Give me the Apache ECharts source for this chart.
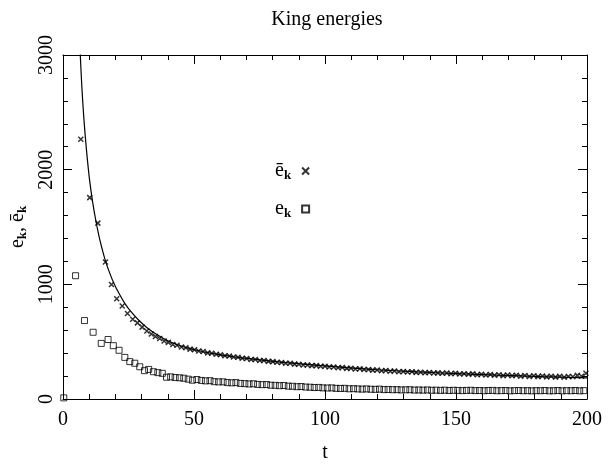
<!DOCTYPE html>
<html>
<head>
<meta charset="utf-8">
<script src="https://cdn.jsdelivr.net/npm/echarts@6/dist/echarts.min.js"></script>
<style>
  html, body { margin: 0; padding: 0; background: #fff; }
  #chart { width: 612px; height: 468px; }
</style>
</head>
<body>
<div id="chart"></div>
<script>
// Kinetic energy e_k (squares), mean energy ē_k (crosses) and the model curve, versus time t.

const xTicks = [0, 50, 100, 150, 200];
const yTicks = [0, 1000, 2000, 3000];

// e_k samples
const tEk = [0.3, 4.8, 8.2, 11.5, 14.6, 17.2, 19.2, 21.4, 23.6, 25.5, 27.4, 29.3, 31.1, 32.7, 34.5, 36.2, 37.9, 39.5, 41.1, 42.8, 44.5, 46.1, 47.8, 49.4, 51.1,
  52.8, 54.4, 56.1, 57.7, 59.4, 61.1, 62.7, 64.4, 66.0, 67.7, 69.4, 71.0, 72.7, 74.3, 76.0, 77.7, 79.3, 81.0, 82.6, 84.3, 86.0, 87.6, 89.3, 90.9,
  92.6, 94.3, 95.9, 97.6, 99.2, 100.9, 102.6, 104.2, 105.9, 107.5, 109.2, 110.9, 112.5, 114.2, 115.8, 117.5, 119.2, 120.8, 122.5, 124.1, 125.8,
  127.5, 129.1, 130.8, 132.4, 134.1, 135.8, 137.4, 139.1, 140.7, 142.4, 144.1, 145.7, 147.4, 149.0, 150.7, 152.4, 154.0, 155.7, 157.3, 159.0,
  160.7, 162.3, 164.0, 165.6, 167.3, 169.0, 170.6, 172.3, 173.9, 175.6, 177.3, 178.9, 180.6, 182.2, 183.9, 185.6, 187.2, 188.9, 190.5, 192.2,
  193.9, 195.5, 197.2, 198.8];
const ek = [10, 1075, 684, 582, 485, 519, 465, 425, 363, 326, 312, 281, 247, 258, 238, 230, 224, 190, 193, 187, 185, 181, 173, 164, 170,
  162, 158, 160, 151, 149, 150, 143, 141, 143, 136, 134, 131, 133, 127, 125, 126, 120, 119, 116, 118, 112, 111, 107, 109,
  104, 103, 100, 101, 97, 96, 97, 93, 92, 93, 89, 90, 88, 86, 88, 85, 84, 86, 82, 83, 81,
  82, 79, 80, 81, 78, 79, 77, 79, 76, 77, 75, 77, 74, 76, 75, 73, 75, 76, 73, 74,
  72, 74, 75, 72, 73, 74, 71, 73, 74, 72, 73, 71, 73, 72, 74, 71, 72, 74, 71, 73,
  72, 74, 71, 73];

// ē_k samples
const tEkBar = [6.8, 10.2, 13.3, 16.2, 18.5, 20.5, 22.6, 24.6, 26.6, 28.4, 30.2, 32.0, 33.7, 35.3,
  36.9, 38.6, 40.2, 41.9, 43.5, 45.2, 46.9, 48.5, 50.2, 51.8, 53.5, 55.2, 56.8, 58.5, 60.1, 61.8, 63.5, 65.1, 66.8, 68.4,
  70.1, 71.8, 73.4, 75.1, 76.7, 78.4, 80.1, 81.7, 83.4, 85.0, 86.7, 88.4, 90.0, 91.7, 93.3, 95.0, 96.7, 98.3, 100.0,
  101.6, 103.3, 105.0, 106.6, 108.3, 109.9, 111.6, 113.3, 114.9, 116.6, 118.2, 119.9, 121.6, 123.2, 124.9, 126.5, 128.2,
  129.9, 131.5, 133.2, 134.8, 136.5, 138.2, 139.8, 141.5, 143.1, 144.8, 146.5, 148.1, 149.8, 151.4, 153.1, 154.8, 156.4,
  158.1, 159.7, 161.4, 163.1, 164.7, 166.4, 168.0, 169.7, 171.4, 173.0, 174.7, 176.3, 178.0, 179.7, 181.3, 183.0, 184.6,
  186.3, 188.0, 189.6, 191.3, 192.9, 194.6, 196.3, 197.9, 199.6];
const ekBar = [2266, 1756, 1534, 1194, 998, 874, 811, 746, 695, 664, 627, 593, 567, 545,
  527, 506, 494, 476, 468, 453, 447, 435, 430, 418, 414, 402, 399, 390, 386, 377, 375, 366, 364, 355,
  353, 345, 344, 336, 335, 328, 326, 320, 319, 312, 311, 304, 303, 297, 297, 291, 291, 285, 285,
  279, 279, 273, 274, 267, 268, 262, 263, 257, 258, 252, 253, 246, 248, 242, 244, 238,
  240, 235, 237, 232, 234, 229, 231, 226, 228, 224, 226, 221, 224, 218, 221, 216, 219,
  212, 216, 209, 214, 207, 211, 204, 209, 202, 207, 199, 205, 197, 203, 195, 201, 193,
  199, 191, 198, 189, 197, 194, 206, 198, 224, 238];

// model curve
const tCurve = [6.3, 6.7, 7.2, 7.8, 8.5, 9.3, 10.2, 11.2, 12.3, 13.5, 14.8, 16.2, 17.8, 19.5, 21.5, 23.7, 26.2, 29.0, 32.2, 35.8,
  40.0, 45.0, 51.0, 58.0, 66.0, 75.0, 85.0, 96.0, 108.0, 121.0, 135.0, 150.0, 166.0, 183.0, 200.0];
const eCurve = [3150, 2950, 2720, 2500, 2290, 2090, 1900, 1735, 1585, 1445, 1320, 1205, 1100, 1005, 915, 830, 755, 685, 620, 562,
  508, 462, 425, 393, 366, 341, 317, 295, 273, 253, 236, 222, 208, 195, 185];

const FONT = '"Liberation Serif", "DejaVu Serif", serif';
const INK = '#000';

const pairs = (xs, ys) => xs.map((x, i) => [x, ys[i]]);

const subRich = {
  e: { fontFamily: FONT, fontSize: 20, color: INK },
  k: { fontFamily: FONT, fontSize: 13, fontWeight: 'bold', color: INK, padding: [9, 0, 0, 0] }
};
const legendRich = {
  e: subRich.e,
  k: { fontFamily: FONT, fontSize: 13, fontWeight: 'bold', color: INK, padding: [9, 6, 0, 0] }
};

function frameAxis(kind, position, showLabels) {
  const isX = kind === 'x';
  return {
    type: 'value',
    position: position,
    min: isX ? xTicks[0] : yTicks[0],
    max: isX ? xTicks[xTicks.length - 1] : yTicks[yTicks.length - 1],
    interval: isX ? xTicks[1] - xTicks[0] : yTicks[1] - yTicks[0],
    axisLine: { show: true, onZero: false, lineStyle: { color: INK, width: 1 } },
    axisTick: { show: true, inside: true, length: 9, lineStyle: { color: INK, width: 1 } },
    minorTick: { show: true, splitNumber: 5, length: 5, lineStyle: { color: INK, width: 1 } },
    splitLine: { show: false },
    minorSplitLine: { show: false },
    axisLabel: {
      show: showLabels,
      fontFamily: FONT,
      fontSize: 20,
      color: INK,
      margin: isX ? 11 : 6,
      rotate: isX ? 0 : 90,
      formatter: v => String(v)
    }
  };
}

const xBottom = Object.assign(frameAxis('x', 'bottom', true), {
  name: 't',
  nameLocation: 'middle',
  nameGap: 44,
  nameTextStyle: { fontFamily: FONT, fontSize: 20, color: INK }
});
const yLeft = Object.assign(frameAxis('y', 'left', true), {
  name: '{e|e}{k|k}{e|, ē}{k|k}',
  nameLocation: 'middle',
  nameRotate: 90,
  nameGap: 30,
  nameTextStyle: { rich: subRich }
});

const chart = echarts.init(document.getElementById('chart'), null, { renderer: 'canvas' });
chart.setOption({
  backgroundColor: '#fff',
  animation: false,
  title: {
    text: 'King energies',
    left: 322,
    textAlign: 'center',
    top: 5,
    textStyle: { fontFamily: FONT, fontSize: 20, fontWeight: 'normal', color: INK }
  },
  grid: { left: 63, right: 25, top: 55, bottom: 60 },
  xAxis: [xBottom, frameAxis('x', 'top', false)],
  yAxis: [yLeft, frameAxis('y', 'right', false)],
  legend: {
    orient: 'vertical',
    left: 270,
    top: 156,
    align: 'right',
    itemGap: 17,
    itemWidth: 7,
    itemHeight: 7,
    selectedMode: false,
    data: ['ebar', 'e'],
    formatter: name => name === 'ebar' ? '{e|ē}{k|k}' : '{e|e}{k|k}',
    textStyle: { rich: legendRich }
  },
  series: [
    {
      name: 'curve',
      type: 'line',
      data: pairs(tCurve, eCurve),
      showSymbol: false,
      clip: true,
      smooth: 0.3,
      lineStyle: { color: INK, width: 1.2 },
      z: 1
    },
    {
      name: 'ebar',
      type: 'scatter',
      data: pairs(tEkBar, ekBar),
      symbol: 'path://M0,0L10,10M0,10L10,0',
      symbolSize: 5,
      itemStyle: { color: 'rgba(0,0,0,0)', borderColor: INK, borderWidth: 1.5 },
      z: 3
    },
    {
      name: 'e',
      type: 'scatter',
      data: pairs(tEk, ek),
      symbol: 'rect',
      symbolSize: 6,
      itemStyle: { color: 'rgba(0,0,0,0)', borderColor: INK, borderWidth: 1 },
      z: 2
    }
  ]
});
</script>
</body>
</html>
